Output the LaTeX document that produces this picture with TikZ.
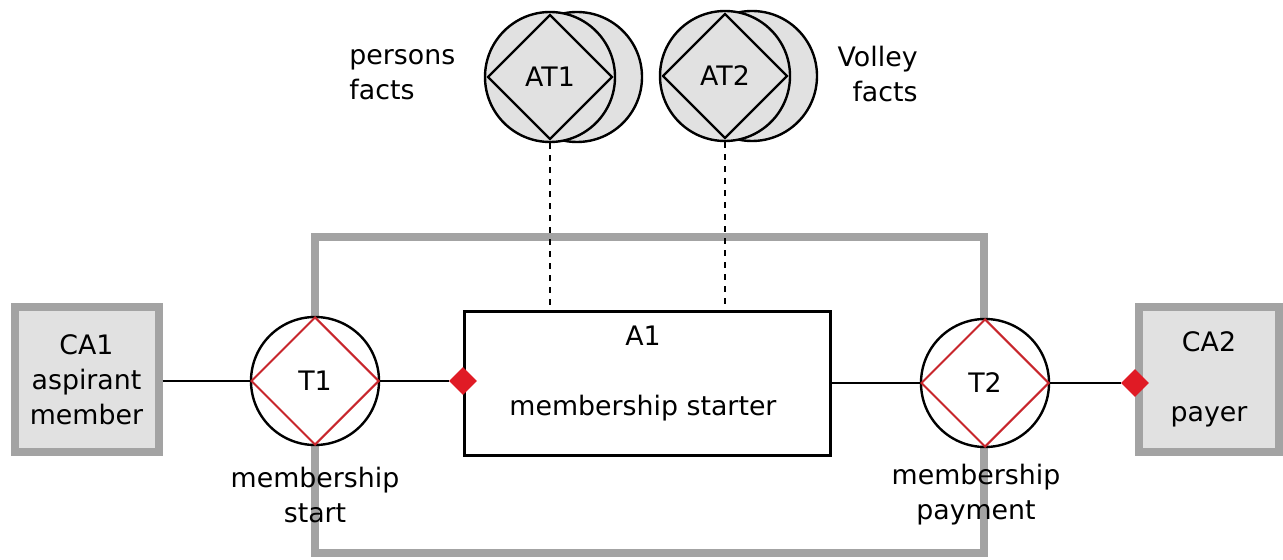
\documentclass[tikz,border=0pt]{standalone}
\usepackage{fontspec}
\setmainfont{DejaVu Sans}
\usetikzlibrary{shapes.geometric}
\definecolor{framegray}{HTML}{A3A3A3}
\definecolor{boxgray}{HTML}{E1E1E1}
\definecolor{markred}{HTML}{E01B25}
\definecolor{edgered}{HTML}{C8262C}

\tikzset{
  actor/.style={draw=framegray, line width=4pt, fill=boxgray, align=center,
    minimum width=72pt, minimum height=72pt, inner sep=0pt},
  trans/.style={circle, draw, line width=1.2pt, fill=white, minimum size=64pt, inner sep=0pt},
  transdia/.style={diamond, draw=edgered, line width=1pt, minimum size=64pt, inner sep=0pt},
  bank/.style={circle, draw, line width=1.2pt, fill=boxgray, minimum size=65pt, inner sep=0pt},
  bankdia/.style={diamond, draw, line width=1.2pt, minimum size=62.5pt, inner sep=0pt},
  actbox/.style={draw, line width=1.5pt, fill=white, minimum width=183pt, minimum height=72pt},
  marker/.style={diamond, fill=markred, minimum size=14pt, inner sep=0pt},
  link/.style={line width=1pt},
  txt/.style={inner sep=0pt, align=center}
}

\begin{document}
\begin{tikzpicture}[x=0.5pt, y=-0.5pt, font=\fontsize{13.4}{17.5}\selectfont]
  \useasboundingbox (0,0) rectangle (1283,560);

  % positions of the transactions
  \coordinate (p1) at (315,381);
  \coordinate (p2) at (985,383);

  % actor role boundary
  \draw[framegray, line width=4pt] (315,237) rectangle (984,553);

  % fact banks (back circle first)
  \node[bank] (AT1b) at (577,77) {};
  \node[bank] (AT1c) at (550,77) {};
  \node[bankdia] (AT1) at (550,77) {AT1};
  \node[bank] (AT2b) at (752,76) {};
  \node[bank] (AT2c) at (725,76) {};
  \node[bankdia] (AT2) at (725,76) {AT2};
  \node[txt, anchor=west, align=left] (persons) at (349,75) {persons\\facts};
  \node[txt, anchor=east, align=right] (volley) at (918,74) {Volley\\facts};

  % composite actors and elementary actor
  \node[actor] (CA1) at (86.5,379.5) {CA1\\aspirant\\member};
  \node[actor, minimum width=70pt] (CA2) at (1209,379.5) {CA2\\[17.5pt]payer};
  \node[actbox] (A1) at (647.5,383.5) {};
  \node[txt] (A1name) at (643,336) {A1};
  \node[txt] (A1role) at (643,408) {membership starter};

  % transactions
  \node[trans] (T1c) at (p1) {};
  \node[transdia] (T1) at (p1) {T1};
  \node[trans] (T2c) at (p2) {};
  \node[transdia] (T2) at (p2) {T2};
  \node[txt] (T1name) at (315,495) {membership\\start};
  \node[txt] (T2name) at (976,495) {membership\\payment};

  % links
  \node[marker] (m1) at (A1.west |- p1) {};
  \node[marker] (m2) at (CA2.west |- p2) {};
  \draw[link] (T1c.west -| CA1.east) -- (T1c.west);
  \draw[link] (T1c.east) -- (m1);
  \draw[link] (T2c.west -| A1.east) -- (T2c.west);
  \draw[link] (T2c.east) -- (m2);
  \draw[link, dashed] (AT1c.south) -- (AT1c.south |- A1.north);
  \draw[link, dashed] (AT2c.south) -- (AT2c.south |- A1.north);
\end{tikzpicture}
\end{document}
